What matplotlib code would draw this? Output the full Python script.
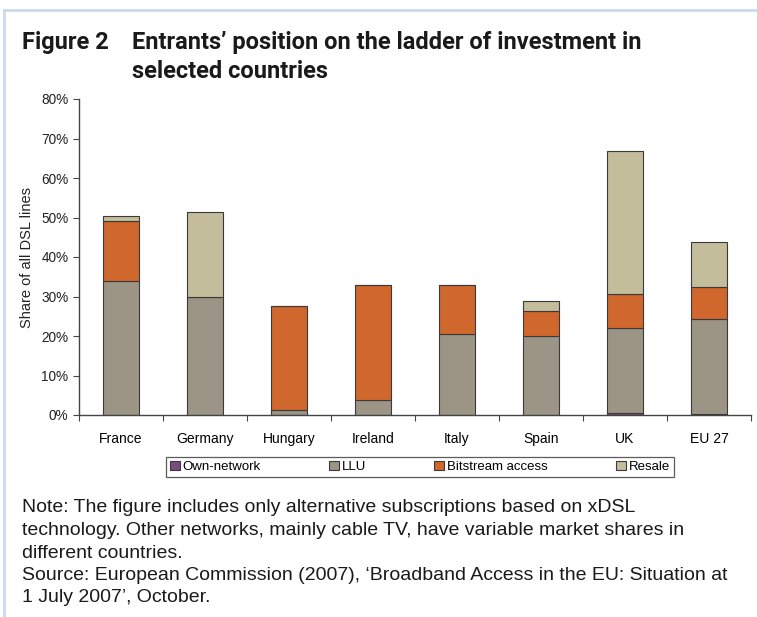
import numpy as np
import matplotlib
matplotlib.use("Agg")
import matplotlib.pyplot as plt
from matplotlib.lines import Line2D

countries = ["France", "Germany", "Hungary", "Ireland", "Italy", "Spain", "UK", "EU 27"]
own_network = [0.0, 0.0, 0.0, 0.0, 0.0, 0.0, 0.6, 0.2]
llu = [33.8, 29.8, 1.2, 3.8, 20.4, 19.9, 21.4, 24.2]
bitstream = [15.2, 0.0, 26.3, 29.0, 12.4, 6.4, 8.6, 7.9]
resale = [1.5, 21.5, 0.0, 0.0, 0.0, 2.5, 36.2, 11.6]

series_names = ["Own-network", "LLU", "Bitstream access", "Resale"]
series_colors = ["#7A4B7E", "#9C9485", "#D0672D", "#C4BD9B"]

plt.rcParams["font.family"] = ["Liberation Sans", "DejaVu Sans"]

fig = plt.figure(figsize=(7.57, 6.17), dpi=100)

# light blue frame on top and left
fig.add_artist(Line2D([4 / 757, 4 / 757], [0, 1 - 10 / 617], color="#C8DBEF", lw=2))
fig.add_artist(Line2D([4 / 757, 1], [1 - 10 / 617, 1 - 10 / 617], color="#C8DBEF", lw=2))

title_font = dict(fontsize=17, fontweight="bold", family=["Roboto", "DejaVu Sans"],
                  color="#1a1a1a", va="center")
fig.text(22 / 757, 1 - 43 / 617, "Figure 2", **title_font)
fig.text(132 / 757, 1 - 43 / 617, "Entrants\u2019 position on the ladder of investment in",
         **title_font)
fig.text(132 / 757, 1 - 71 / 617, "selected countries", **title_font)

ax = fig.add_axes([79 / 757, 1 - 415 / 617, 672 / 757, 316 / 617])

x = np.arange(len(countries))
width = 0.43
bottom = np.zeros(len(countries))
data = [own_network, llu, bitstream, resale]
for vals, name, col in zip(data, series_names, series_colors):
    vals = np.array(vals)
    ax.bar(x, vals, width, bottom=bottom, color=col, edgecolor="#3a3a3a",
           linewidth=0.8, label=name)
    bottom += vals

ax.set_xlim(-0.5, len(countries) - 0.5)
ax.set_ylim(0, 80)
ax.set_yticks(np.arange(0, 81, 10))
ax.set_yticklabels([f"{v}%" for v in range(0, 81, 10)])
ax.set_xticks(np.arange(len(countries) + 1) - 0.5)
ax.set_xticklabels([])
ax.set_xticks(x, minor=True)
ax.set_xticklabels(countries, minor=True)
ax.tick_params(axis="x", which="minor", length=0, pad=12)
ax.tick_params(axis="x", which="major", length=4, direction="out", color="#444444")
ax.tick_params(axis="y", length=4, color="#444444")
ax.tick_params(labelsize=9.8, labelcolor="#222222")
for s in ["top", "right"]:
    ax.spines[s].set_visible(False)
for s in ["left", "bottom"]:
    ax.spines[s].set_color("#444444")
    ax.spines[s].set_linewidth(1.0)
ax.set_ylabel("Share of all DSL lines", fontsize=10.5, color="#222222", labelpad=5)

handles, labels = ax.get_legend_handles_labels()
leg = fig.legend(handles, labels, ncol=4, loc="lower left",
                 bbox_to_anchor=(166 / 757, 1 - 477 / 617, 508 / 757, 22 / 617),
                 mode="expand", fancybox=False, frameon=True, fontsize=9.5,
                 handlelength=0.75, handleheight=0.75, handletextpad=0.2,
                 borderpad=0.3, borderaxespad=0)
leg.get_frame().set_edgecolor("#333333")
leg.get_frame().set_linewidth(0.9)

notes = [
    "Note: The figure includes only alternative subscriptions based on xDSL",
    "technology. Other networks, mainly cable TV, have variable market shares in",
    "different countries.",
    "Source: European Commission (2007), \u2018Broadband Access in the EU: Situation at",
    "1 July 2007\u2019, October.",
]
for i, line in enumerate(notes):
    fig.text(22 / 757, 1 - (508 + 22.5 * i) / 617, line, fontsize=14,
             color="#1a1a1a", va="center")

fig.savefig("out.png", dpi=100)
